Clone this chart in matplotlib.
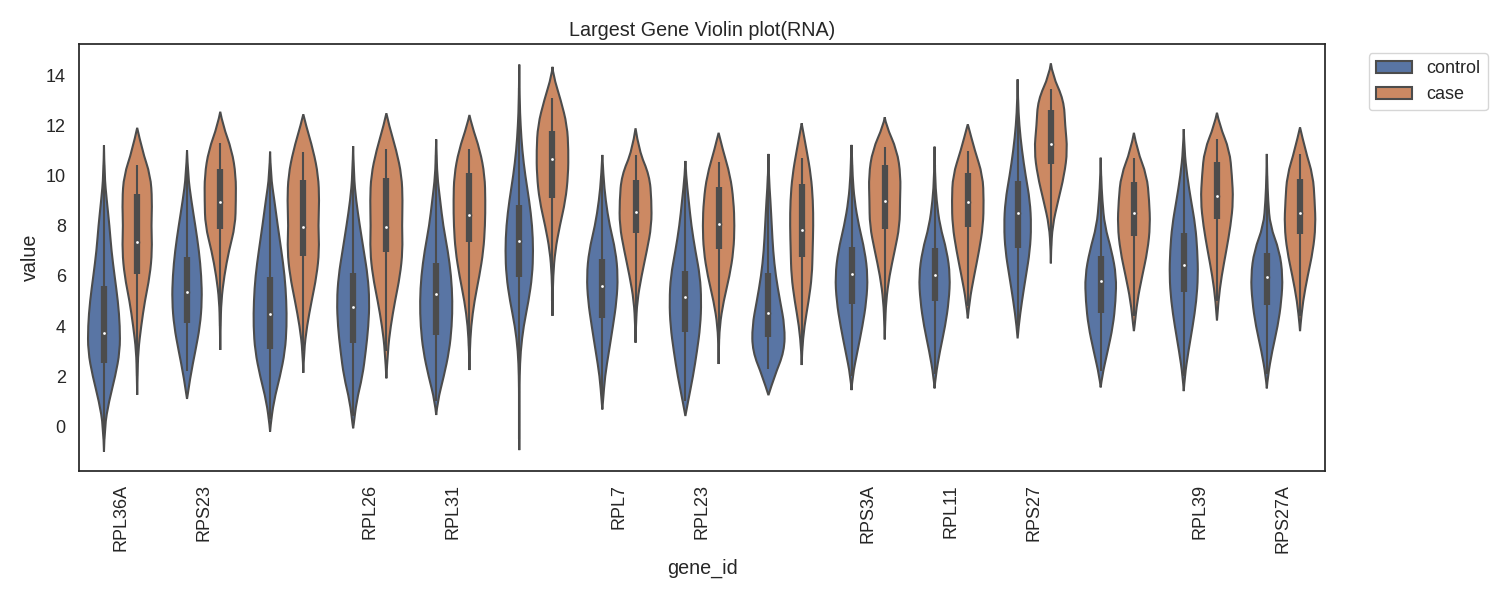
import numpy as np
import matplotlib.pyplot as plt
import seaborn as sns
from matplotlib.patches import Patch, PathPatch
from matplotlib.path import Path

sns.set_theme(style="white")
plt.rcParams["font.family"] = ["Liberation Sans", "DejaVu Sans"]
plt.rcParams.update({"xtick.labelsize": 13, "ytick.labelsize": 13,
                     "axes.labelsize": 14.2, "axes.titlesize": 14.2,
                     "legend.fontsize": 13})

genes = ["RPL36A", "RPS23", "", "RPL26", "RPL31", "", "RPL7", "RPL23",
         "", "RPS3A", "RPL11", "RPS27", "", "RPL39", "RPS27A"]
groups = ["control", "case"]

# violin outlines: relative half-width at integer values, starting at *_base
ctrl_base = [0, 2, 0, 0, 1, 0, 1, 1, 2, 2, 2, 4, 2, 2, 2]
ctrl_dens = [
    [0.04, 0.30, 0.68, 0.96, 0.96, 0.84, 0.64, 0.45, 0.33, 0.17, 0.03],
    [0.20, 0.50, 0.78, 0.90, 0.86, 0.72, 0.50, 0.26, 0.06],
    [0.02, 0.22, 0.60, 0.90, 1.00, 0.98, 0.88, 0.68, 0.46, 0.26, 0.04],
    [0.02, 0.20, 0.56, 0.76, 0.92, 0.98, 0.88, 0.64, 0.40, 0.18, 0.04],
    [0.08, 0.46, 0.78, 0.94, 0.98, 0.90, 0.70, 0.42, 0.24, 0.06, 0.02],
    [0.01, 0.01, 0.02, 0.08, 0.26, 0.56, 0.78, 0.84, 0.78, 0.60, 0.36, 0.18, 0.08, 0.02],
    [0.04, 0.16, 0.40, 0.64, 0.86, 0.94, 0.80, 0.44, 0.20, 0.06],
    [0.16, 0.46, 0.70, 0.90, 0.96, 0.88, 0.60, 0.36, 0.20, 0.04],
    [0.36, 0.96, 0.98, 0.70, 0.44, 0.28, 0.20, 0.12, 0.02],
    [0.06, 0.36, 0.66, 0.90, 0.98, 0.80, 0.44, 0.18, 0.06, 0.02],
    [0.06, 0.32, 0.64, 0.86, 0.94, 0.74, 0.32, 0.12, 0.02],
    [0.06, 0.26, 0.50, 0.74, 0.82, 0.74, 0.48, 0.26, 0.10, 0.02],
    [0.08, 0.42, 0.74, 0.90, 0.94, 0.66, 0.24, 0.10, 0.02],
    [0.06, 0.28, 0.54, 0.76, 0.86, 0.82, 0.70, 0.44, 0.20, 0.04],
    [0.06, 0.32, 0.66, 0.88, 0.96, 0.76, 0.20, 0.08, 0.02],
]
ctrl_lo = [-1.0, 1.1, -0.2, -0.07, 0.46, -0.94, 0.68, 0.42, 1.25, 1.45, 1.52, 3.51, 1.56, 1.41, 1.52]
ctrl_hi = [11.2, 11.0, 10.95, 11.17, 11.44, 14.42, 10.82, 10.58, 10.86, 11.22, 11.15, 13.83, 10.71, 11.85, 10.86]
ctrl_q1 = [2.52, 4.11, 3.07, 3.31, 3.64, 5.94, 4.31, 3.78, 3.55, 4.9, 5.01, 7.1, 4.54, 5.37, 4.84]
ctrl_med = [3.71, 5.37, 4.47, 4.75, 5.27, 7.41, 5.6, 5.15, 4.51, 6.06, 6.02, 8.49, 5.78, 6.42, 5.97]
ctrl_q3 = [5.6, 6.77, 5.94, 6.1, 6.5, 8.82, 6.67, 6.2, 6.13, 7.16, 7.1, 9.8, 6.79, 7.7, 6.92]
ctrl_wlo = [-0.5, 2.2, 0.3, 0.4, 1.0, -0.5, 1.2, 1.0, 2.3, 2.0, 2.1, 4.0, 2.2, 2.0, 2.1]
ctrl_whi = [10.4, 10.3, 10.5, 10.6, 10.8, 13.5, 10.1, 9.9, 10.0, 10.4, 10.4, 13.0, 10.0, 11.0, 10.0]

case_base = [2, 4, 3, 3, 3, 5, 4, 3, 3, 4, 5, 7, 4, 5, 4]
case_dens = [
    [0.02, 0.06, 0.24, 0.46, 0.76, 0.90, 0.85, 0.90, 0.80, 0.30],
    [0.02, 0.06, 0.24, 0.52, 0.90, 0.94, 0.94, 0.70, 0.16],
    [0.04, 0.22, 0.50, 0.80, 0.96, 0.90, 0.96, 0.90, 0.60, 0.16],
    [0.08, 0.26, 0.52, 0.82, 0.98, 0.94, 0.98, 0.92, 0.60, 0.16],
    [0.02, 0.10, 0.30, 0.60, 0.84, 0.94, 0.96, 0.92, 0.64, 0.14],
    [0.01, 0.04, 0.16, 0.44, 0.78, 0.94, 0.96, 0.88, 0.50, 0.04],
    [0.02, 0.10, 0.36, 0.68, 0.96, 0.96, 0.84, 0.20],
    [0.01, 0.06, 0.30, 0.66, 0.90, 0.96, 0.90, 0.70, 0.26],
    [0.02, 0.16, 0.42, 0.62, 0.66, 0.70, 0.68, 0.56, 0.30, 0.02],
    [0.02, 0.08, 0.28, 0.60, 0.90, 0.92, 0.96, 0.74, 0.08],
    [0.10, 0.38, 0.68, 0.92, 0.96, 0.90, 0.42, 0.02],
    [0.01, 0.10, 0.44, 0.80, 1.00, 0.86, 0.78, 0.10],
    [0.04, 0.20, 0.50, 0.82, 0.98, 0.92, 0.78, 0.20],
    [0.08, 0.28, 0.56, 0.82, 0.98, 0.90, 0.76, 0.16],
    [0.02, 0.18, 0.46, 0.78, 0.94, 0.88, 0.78, 0.32],
]
case_lo = [1.26, 3.05, 2.14, 1.92, 2.25, 4.41, 3.34, 2.49, 2.45, 3.47, 4.31, 6.5, 3.8, 4.22, 3.8]
case_hi = [11.9, 12.54, 12.44, 12.48, 12.41, 14.33, 11.88, 11.7, 12.08, 12.32, 12.04, 14.47, 11.7, 12.5, 11.92]
case_q1 = [6.06, 7.87, 6.79, 6.97, 7.37, 9.09, 7.7, 7.06, 6.74, 7.85, 7.96, 10.46, 7.59, 8.27, 7.67]
case_med = [7.34, 8.93, 7.93, 7.96, 8.41, 10.64, 8.56, 8.05, 7.82, 9.0, 8.93, 11.24, 8.49, 9.2, 8.52]
case_q3 = [9.25, 10.24, 9.82, 9.89, 10.11, 11.78, 9.82, 9.53, 9.65, 10.42, 10.11, 12.61, 9.73, 10.55, 9.86]
case_wlo = [2.0, 4.0, 3.0, 3.0, 3.2, 5.0, 4.4, 3.5, 3.2, 4.2, 4.8, 7.2, 4.4, 5.0, 4.4]
case_whi = [10.4, 11.3, 10.95, 11.04, 11.04, 13.07, 10.82, 10.52, 10.68, 11.15, 10.99, 13.43, 10.68, 11.44, 10.86]

fig, ax = plt.subplots(figsize=(15, 6), dpi=100)
fig.subplots_adjust(left=0.0527, right=0.8833, top=0.9267, bottom=0.2155)

palette = [sns.desaturate(c, 0.75) for c in sns.color_palette("deep")[:2]]
gray = "#4c4c4c"
half = 0.2
offsets = [-0.2, 0.2]


def spline_side(pts, first):
    # quadratic b-spline through the read samples (samples act as control points)
    verts, codes = [], []
    if first:
        verts.append(pts[0])
        codes.append(Path.MOVETO)
    for k in range(1, len(pts) - 2):
        mid = ((pts[k][0] + pts[k + 1][0]) / 2, (pts[k][1] + pts[k + 1][1]) / 2)
        verts += [pts[k], mid]
        codes += [Path.CURVE3, Path.CURVE3]
    verts += [pts[-2], pts[-1]]
    codes += [Path.CURVE3, Path.CURVE3]
    return verts, codes


def draw_violin(x, base, dens, lo, hi, q1, med, q3, wlo, whi, color):
    levels = base + np.arange(len(dens))
    ys = np.concatenate([[lo], levels, [hi]])
    ws = np.concatenate([[0.0], dens, [0.0]]) * half
    right = list(zip(x + ws, ys))
    left = list(zip(x - ws, ys))[::-1]
    v1, c1 = spline_side(right, True)
    v2, c2 = spline_side(left, False)
    verts = v1 + v2 + [right[0]]
    codes = c1 + c2 + [Path.CLOSEPOLY]
    ax.add_patch(PathPatch(Path(verts, codes), facecolor=color, edgecolor=gray,
                           linewidth=1.5, zorder=1))
    ax.plot([x, x], [wlo, whi], color=gray, lw=1.5, solid_capstyle="butt", zorder=2)
    ax.plot([x, x], [q1, q3], color=gray, lw=4.5, solid_capstyle="butt", zorder=2)
    ax.scatter([x], [med], s=9, color="white", edgecolor=gray, zorder=3)


stats = [
    (ctrl_base, ctrl_dens, ctrl_lo, ctrl_hi, ctrl_q1, ctrl_med, ctrl_q3, ctrl_wlo, ctrl_whi),
    (case_base, case_dens, case_lo, case_hi, case_q1, case_med, case_q3, case_wlo, case_whi),
]
for g in range(2):
    base, dens, lo, hi, q1, med, q3, wlo, whi = stats[g]
    for i in range(len(genes)):
        draw_violin(i + offsets[g], base[i], dens[i], lo[i], hi[i],
                    q1[i], med[i], q3[i], wlo[i], whi[i], palette[g])

ax.set_xticks(range(len(genes)))
ax.set_xticklabels(genes, rotation=90)
ax.set_yticks(range(0, 15, 2))
ax.set_xlim(-0.5, len(genes) - 0.5)
ax.set_ylim(-1.76, 15.24)
ax.set_xlabel("gene_id")
ax.set_ylabel("value")
ax.set_title("Largest Gene Violin plot(RNA)")

handles = [Patch(facecolor=palette[g], edgecolor=gray, linewidth=1.5, label=groups[g])
           for g in range(2)]
ax.legend(handles=handles, loc="upper left", bbox_to_anchor=(1.028, 1))

fig.savefig("out.png", dpi=100)
